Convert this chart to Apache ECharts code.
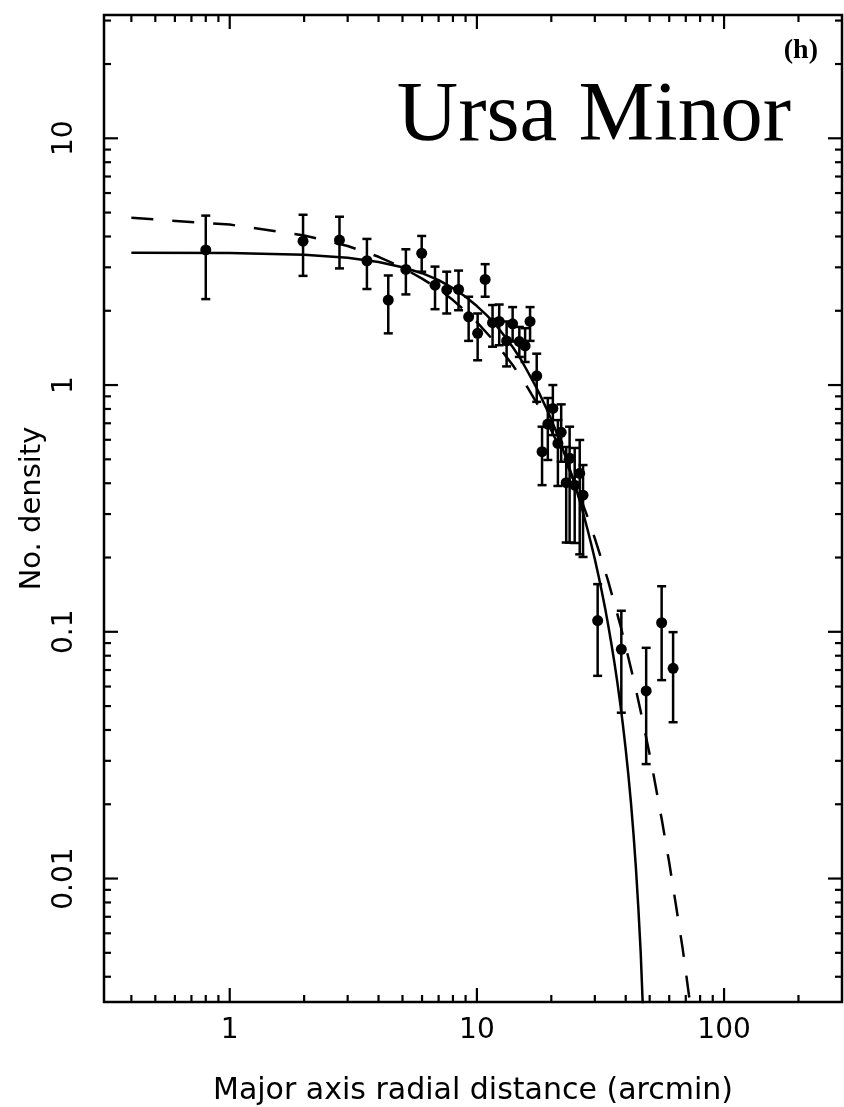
<!DOCTYPE html>
<html><head><meta charset="utf-8">
<script src="https://cdn.jsdelivr.net/npm/echarts@6/dist/echarts.min.js"></script>
<style>html,body{margin:0;padding:0;background:#fff}#c{width:844px;height:1107px}</style>
</head><body><div id="c"></div>
<script>
// Observed profile: radius (arcmin), density, error bar ends
const radius  = [0.80, 1.98, 2.78, 3.59, 4.38, 5.16, 5.98, 6.77, 7.55, 8.43, 9.26, 10.07, 10.8, 11.57, 12.31, 13.19, 13.95, 14.85, 15.67, 16.41, 17.46, 18.35, 19.36, 20.29, 21.27, 21.93, 22.98, 23.72, 24.87, 26.06, 26.88, 30.8, 38.4, 48.4, 55.9, 62.2];
const density = [3.53, 3.83, 3.87, 3.19, 2.21, 2.94, 3.42, 2.54, 2.43, 2.44, 1.89, 1.62, 2.68, 1.79, 1.81, 1.51, 1.77, 1.50, 1.44, 1.81, 1.09, 0.537, 0.695, 0.804, 0.580, 0.643, 0.402, 0.505, 0.393, 0.439, 0.358, 0.111, 0.0849, 0.0576, 0.1088, 0.0711];
const upper   = [4.86, 4.90, 4.81, 3.91, 2.78, 3.55, 4.02, 3.02, 2.88, 2.91, 2.28, 1.95, 3.09, 2.11, 2.12, 1.81, 2.07, 1.72, 1.70, 2.07, 1.34, 0.678, 0.886, 1.00, 0.721, 0.835, 0.561, 0.678, 0.556, 0.599, 0.474, 0.156, 0.1217, 0.0861, 0.153, 0.0997];
const lower   = [2.23, 2.77, 2.97, 2.45, 1.62, 2.33, 2.88, 2.03, 1.95, 2.01, 1.51, 1.26, 2.28, 1.43, 1.45, 1.19, 1.50, 1.30, 1.24, 1.51, 0.855, 0.393, 0.497, 0.627, 0.390, 0.489, 0.230, 0.230, 0.229, 0.206, 0.201, 0.0663, 0.047, 0.0291, 0.0637, 0.043];

// Solid (King-like) curve
const kingR = [0.4, 1, 2, 3, 4, 5, 6, 7, 8, 9, 10, 11, 12, 13, 14, 15, 16, 17, 18, 19, 20, 21, 22, 23, 24, 25, 26, 27, 28, 29, 30, 31, 32, 33, 34, 35, 36, 37, 38, 39, 40, 41, 42, 43, 44, 45, 46, 47];
const kingD = [3.44, 3.43, 3.37, 3.28, 3.15, 3.00, 2.84, 2.66, 2.47, 2.28, 2.09, 1.91, 1.74, 1.57, 1.42, 1.28, 1.14, 1.02, 0.914, 0.814, 0.725, 0.642, 0.569, 0.502, 0.443, 0.390, 0.342, 0.299, 0.261, 0.227, 0.197, 0.170, 0.146, 0.125, 0.106, 0.0895, 0.0751, 0.0624, 0.0513, 0.0417, 0.0334, 0.0263, 0.0203, 0.0152, 0.0110, 0.0076, 0.0050, 0.0029];
// Dashed curve
const expR = [0.4, 1, 2, 3, 4, 5, 6, 7, 8, 9, 10, 12, 14, 16, 18, 20, 22, 24, 26, 28, 30, 32, 34, 36, 38, 40, 42, 44, 46, 48, 50, 52, 54, 56, 58, 60, 62, 64, 66, 68, 70, 72, 75];
const expD = [4.76, 4.47, 4.04, 3.66, 3.31, 2.99, 2.70, 2.45, 2.21, 1.99, 1.80, 1.47, 1.20, 0.98, 0.803, 0.655, 0.537, 0.438, 0.358, 0.293, 0.239, 0.195, 0.160, 0.130, 0.107, 0.0871, 0.0711, 0.0582, 0.0475, 0.0388, 0.0318, 0.0259, 0.0211, 0.0173, 0.0141, 0.0116, 0.0094, 0.0077, 0.0063, 0.0052, 0.0042, 0.0034, 0.0026];

// Axes
const xRange = [0.31, 300];
const yRange = [0.00316, 31.6];
const xMajorTicks = [1, 10, 100];
const xMinorTicks = [0.4, 0.5, 0.6, 0.7, 0.8, 0.9, 2, 3, 4, 5, 6, 7, 8, 9, 20, 30, 40, 50, 60, 70, 80, 90, 200];
const yMajorTicks = [0.01, 0.1, 1, 10];
const yMinorTicks = [0.004, 0.005, 0.006, 0.007, 0.008, 0.009, 0.02, 0.03, 0.04, 0.05, 0.06, 0.07, 0.08, 0.09, 0.2, 0.3, 0.4, 0.5, 0.6, 0.7, 0.8, 0.9, 2, 3, 4, 5, 6, 7, 8, 9, 20, 30];

const MAJOR = 14, MINOR = 7;
const FONT = 'DejaVu Sans';

function fmtPow(v) {
  const l = Math.log10(v);
  if (Math.abs(l - Math.round(l)) > 1e-6) return '';
  const p = Math.round(l);
  return p >= 0 ? String(Math.pow(10, p)) : Math.pow(10, p).toFixed(-p);
}

const xTickData = xMajorTicks.map(v => [v, yRange[0], MAJOR]).concat(xMinorTicks.map(v => [v, yRange[0], MINOR]));
const yTickData = yMajorTicks.map(v => [xRange[0], v, MAJOR]).concat(yMinorTicks.map(v => [xRange[0], v, MINOR]));
const errData = radius.map((r, i) => [r, lower[i], upper[i]]);

const chart = echarts.init(document.getElementById('c'), null, {renderer: 'canvas'});
const black = '#000';

chart.setOption({
  backgroundColor: '#fff',
  animation: false,
  grid: {left: 104, right: 2, top: 15, bottom: 105, show: true, borderColor: black, borderWidth: 2.5, containLabel: false, outerBoundsMode: 'none'},
  xAxis: {
    type: 'log', logBase: 10, min: xRange[0], max: xRange[1],
    name: 'Major axis radial distance (arcmin)', nameLocation: 'middle', nameGap: 74, nameMoveOverlap: false,
    nameTextStyle: {fontFamily: FONT, fontSize: 30, color: black},
    axisLine: {show: false}, axisTick: {show: false}, splitLine: {show: false}, minorTick: {show: false},
    axisLabel: {formatter: fmtPow, fontFamily: FONT, fontSize: 28, color: black, margin: 15, showMinLabel: true, showMaxLabel: true}
  },
  yAxis: {
    type: 'log', logBase: 10, min: yRange[0], max: yRange[1],
    name: 'No. density', nameLocation: 'middle', nameGap: 57, nameRotate: 90, nameMoveOverlap: false,
    nameTextStyle: {fontFamily: FONT, fontSize: 29, color: black},
    axisLine: {show: false}, axisTick: {show: false}, splitLine: {show: false}, minorTick: {show: false},
    axisLabel: {formatter: fmtPow, rotate: 90, fontFamily: FONT, fontSize: 28, color: black, margin: 25}
  },
  graphic: [
    {type: 'text', right: 844 - 791, top: 75, style: {text: 'Ursa Minor', fontFamily: 'Liberation Serif', fontSize: 85, fill: black}},
    {type: 'text', right: 844 - 818, top: 37, style: {text: '(h)', fontFamily: 'Liberation Serif', fontSize: 28, fontWeight: 'bold', fill: black}}
  ],
  series: [
    {
      type: 'custom', name: 'xticks', data: xTickData, encode: {x: 0, y: 1}, clip: false, silent: true, z: 10,
      renderItem: function (params, api) {
        const v = api.value(0), len = api.value(2);
        const b = api.coord([v, yRange[0]]), t = api.coord([v, yRange[1]]);
        const st = {stroke: black, lineWidth: 2.2};
        return {type: 'group', children: [
          {type: 'line', shape: {x1: b[0], y1: b[1], x2: b[0], y2: b[1] - len}, style: st},
          {type: 'line', shape: {x1: t[0], y1: t[1], x2: t[0], y2: t[1] + len}, style: st}
        ]};
      }
    },
    {
      type: 'custom', name: 'yticks', data: yTickData, encode: {x: 0, y: 1}, clip: false, silent: true, z: 10,
      renderItem: function (params, api) {
        const v = api.value(1), len = api.value(2);
        const l = api.coord([xRange[0], v]), r = api.coord([xRange[1], v]);
        const st = {stroke: black, lineWidth: 2.2};
        return {type: 'group', children: [
          {type: 'line', shape: {x1: l[0], y1: l[1], x2: l[0] + len, y2: l[1]}, style: st},
          {type: 'line', shape: {x1: r[0], y1: r[1], x2: r[0] - len, y2: r[1]}, style: st}
        ]};
      }
    },
    {
      type: 'line', name: 'King', data: kingR.map((r, i) => [r, kingD[i]]), showSymbol: false,
      smooth: false, lineStyle: {color: black, width: 2.5}, z: 3
    },
    {
      type: 'line', name: 'Exponential', data: expR.map((r, i) => [r, expD[i]]), showSymbol: false,
      smooth: false, lineStyle: {color: black, width: 2.5, type: [22, 19]}, z: 3
    },
    {
      type: 'custom', name: 'errors', data: errData, encode: {x: 0, y: [1, 2]}, z: 4,
      renderItem: function (params, api) {
        const x = api.value(0);
        const lo = api.coord([x, api.value(1)]), hi = api.coord([x, api.value(2)]);
        const cw = 4.5;
        const st = {stroke: black, lineWidth: 2.5};
        return {type: 'group', children: [
          {type: 'line', shape: {x1: lo[0], y1: lo[1], x2: hi[0], y2: hi[1]}, style: st},
          {type: 'line', shape: {x1: lo[0] - cw, y1: lo[1], x2: lo[0] + cw, y2: lo[1]}, style: st},
          {type: 'line', shape: {x1: hi[0] - cw, y1: hi[1], x2: hi[0] + cw, y2: hi[1]}, style: st}
        ]};
      }
    },
    {
      type: 'scatter', name: 'data', data: radius.map((r, i) => [r, density[i]]),
      symbol: 'circle', symbolSize: 11, itemStyle: {color: black, opacity: 1}, z: 5
    }
  ]
});
</script>
</body></html>
